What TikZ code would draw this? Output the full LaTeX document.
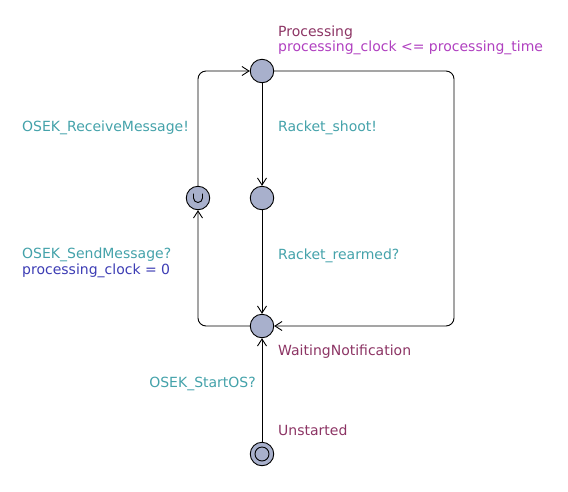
\documentclass[tikz,border=0pt]{standalone}
\usepackage{fontspec}
\setmainfont{DejaVu Sans}
\usetikzlibrary{arrows.meta}

\definecolor{locfill}{HTML}{A8B0CC}
\definecolor{locname}{HTML}{8C3464}
\definecolor{syncol}{HTML}{44A2AA}
\definecolor{invcol}{HTML}{B040C0}
\definecolor{asgcol}{HTML}{3C3CB4}

\tikzset{
	loc/.style={circle,draw,line width=0.9pt,fill=locfill,minimum size=23.5pt,inner sep=0pt},
	edge/.style={line width=0.9pt,-{Straight Barb[length=7pt,width=9pt,line width=0.9pt]}},
	lbl/.style={anchor=base west,inner sep=0pt,font=\fontsize{14}{16}\selectfont},
}

\begin{document}
\begin{tikzpicture}[x=1pt,y=-1pt]
		\useasboundingbox (0,0) rectangle (568,491);

		% locations
		\node[loc] (proc) at (262,71) {};
		\node[loc] (shot) at (262,198) {};
		\node[loc] (urg) at (198,198) {};
		\node[loc] (wait) at (262,326) {};
		\node[loc] (unst) at (262,454) {};
		\draw[line width=0.9pt] (unst.center) circle (7);

		% urgent mark
		\draw[line width=0.9pt] ([shift={(-4.5,-4.5)}]urg.center) -- ++(0,4.5)
			arc[start angle=180,end angle=0,radius=4.5] -- ++(0,-4.5);

		% corners
		\coordinate (rtop) at (454,71);
		\coordinate (rbot) at (454,326);
		\coordinate (ltop) at (198,71);
		\coordinate (lbot) at (198,326);

		% edges
		\draw[edge] (unst) -- (wait);
		\draw[edge] (proc) -- (shot);
		\draw[edge] (shot) -- (wait);
		\draw[edge,rounded corners=8] (proc.east) -- (rtop) -- (rbot) -- (wait.east);
		\draw[edge,rounded corners=8] (wait.west) -- (lbot) -- (urg.south);
		\draw[edge,rounded corners=8] (urg.north) -- (ltop) -- (proc.west);

		% location names
		\node[lbl,locname] (nproc) at (278,36) {Processing};
		\node[lbl,invcol] (iproc) at (278,51) {processing\_clock <= processing\_time};
		\node[lbl,locname] (nwait) at (278,355) {WaitingNotification};
		\node[lbl,locname] (nunst) at (278,435) {Unstarted};

		% edge labels
		\node[lbl,syncol] (recv) at (22,131) {OSEK\_ReceiveMessage!};
		\node[lbl,syncol] (shoot) at (278,131) {Racket\_shoot!};
		\node[lbl,syncol] (rearm) at (278,259) {Racket\_rearmed?};
		\node[lbl,syncol] (send) at (22,258) {OSEK\_SendMessage?};
		\node[lbl,asgcol] (reset) at (22,274) {processing\_clock = 0};
		\node[lbl,syncol,anchor=base east] (start) at (256,387) {OSEK\_StartOS?};

\end{tikzpicture}
\end{document}
